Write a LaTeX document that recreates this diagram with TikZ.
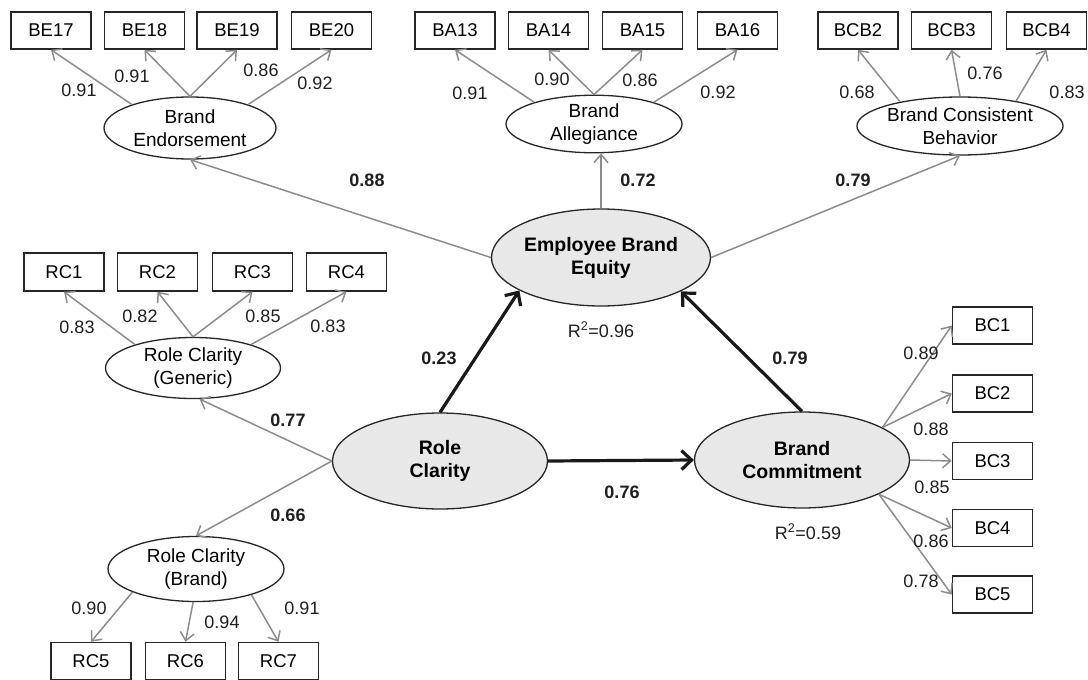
\documentclass[tikz,border=0pt]{standalone}
\usepackage{fontspec}
\setmainfont{Liberation Sans}
\usetikzlibrary{shapes.geometric,arrows.meta}
\begin{document}
\begin{tikzpicture}[x=1pt,y=-1pt,
  ind/.style={draw=black!85, line width=1.5pt, fill=white, minimum width=80pt,
    minimum height=37pt, inner sep=0pt, font=\fontsize{18.5}{22}\selectfont},
  lat/.style={ellipse, draw=black!85, line width=1.3pt, fill=white, inner sep=0pt,
    align=center, font=\fontsize{19}{23}\selectfont},
  core/.style={lat, fill=black!9, font=\fontsize{19.5}{23}\selectfont\bfseries},
  loadarrow/.style={draw=black!45, line width=1.5pt, -{Straight Barb[length=8pt,width=14pt]}},
  mainarrow/.style={draw=black!90, line width=3.2pt, -{Straight Barb[length=10pt,width=19pt]}},
  coef/.style={text=black!88, inner sep=0pt, font=\fontsize{18}{20}\selectfont},
  bcoef/.style={coef, font=\fontsize{18}{20}\selectfont\bfseries}
]
\useasboundingbox (0,0) rectangle (1088,680);

% indicator boxes, top row
\node[ind] (be17) at (51,30.5) {BE17};
\node[ind] (be18) at (144.5,30.5) {BE18};
\node[ind] (be19) at (237,30.5) {BE19};
\node[ind] (be20) at (331.5,30.5) {BE20};
\node[ind] (ba13) at (455,30.5) {BA13};
\node[ind] (ba14) at (548.5,30.5) {BA14};
\node[ind] (ba15) at (642.5,30.5) {BA15};
\node[ind] (ba16) at (737.5,30.5) {BA16};
\node[ind] (bcb2) at (858,30.5) {BCB2};
\node[ind] (bcb3) at (951.5,30.5) {BCB3};
\node[ind] (bcb4) at (1046.5,30.5) {BCB4};

% role clarity indicators
\node[ind, minimum height=38pt] (rc1) at (64,272) {RC1};
\node[ind, minimum height=38pt] (rc2) at (157.5,272) {RC2};
\node[ind, minimum height=38pt] (rc3) at (252.5,272) {RC3};
\node[ind, minimum height=38pt] (rc4) at (346.5,272) {RC4};
\node[ind] (rc5) at (91,661) {RC5};
\node[ind] (rc6) at (185.5,661) {RC6};
\node[ind] (rc7) at (278.5,661) {RC7};

% brand commitment indicators
\node[ind] (bc1) at (992.5,325.5) {BC1};
\node[ind] (bc2) at (992.5,393.5) {BC2};
\node[ind] (bc3) at (992.5,461) {BC3};
\node[ind] (bc4) at (992.5,528) {BC4};
\node[ind] (bc5) at (992.5,594.5) {BC5};

% first-order latent variables
\node[lat, minimum width=172pt, minimum height=62pt] (be) at (190,128) {Brand\\Endorsement};
\node[lat, minimum width=176pt, minimum height=54pt] (ba) at (594,124) {Brand\\Allegiance};
\node[lat, minimum width=176pt, minimum height=58pt] (bcb) at (960,126) {Brand Consistent\\Behavior};
\node[lat, minimum width=175pt, minimum height=61pt] (rcg) at (193,368) {Role Clarity\\(Generic)};
\node[lat, minimum width=176pt, minimum height=65pt] (rcb) at (196,569) {Role Clarity\\(Brand)};

% structural constructs
\node[core, minimum width=219pt, minimum height=97pt] (ebe) at (601,257.5) {Employee Brand\\Equity};
\node[core, minimum width=215pt, minimum height=96pt] (rc) at (440,461) {Role\\Clarity};
\node[core, minimum width=215pt, minimum height=96pt] (bc) at (802,460) {Brand\\Commitment};

% loadings
\draw[loadarrow] (be.158) -- (be17.south);
\draw[loadarrow] (be.north) -- (be18.south);
\draw[loadarrow] (be.north) -- (be19.south);
\draw[loadarrow] (be.22) -- (be20.south);
\draw[loadarrow] (ba.160) -- (ba13.south);
\draw[loadarrow] (ba.north) -- (ba14.south);
\draw[loadarrow] (ba.north) -- (ba15.south);
\draw[loadarrow] (ba.20) -- (ba16.south);
\draw[loadarrow] (bcb.158) -- (bcb2.south);
\draw[loadarrow] (bcb.north) -- (bcb3.south);
\draw[loadarrow] (bcb.24) -- (bcb4.south);
\draw[loadarrow] (rcg.158) -- (rc1.south);
\draw[loadarrow] (rcg.north) -- (rc2.south);
\draw[loadarrow] (rcg.north) -- (rc3.south);
\draw[loadarrow] (rcg.22) -- (rc4.south);
\draw[loadarrow] (rcb.200) -- (rc5.north);
\draw[loadarrow] (rcb.265) -- (rc6.north);
\draw[loadarrow] (rcb.335) -- (rc7.north);
\draw[loadarrow] (bc.22) -- (bc1.west);
\draw[loadarrow] (bc.22) -- (bc2.west);
\draw[loadarrow] (bc.east) -- (bc3.west);
\draw[loadarrow] (bc.336) -- (bc4.west);
\draw[loadarrow] (bc.336) -- (bc5.west);

% second-order paths
\draw[loadarrow] (ebe.west) -- (be.south);
\draw[loadarrow] (ebe.north) -- (ebe.north |- ba.south);
\draw[loadarrow] (ebe.east) -- (bcb.south);
\draw[loadarrow] (rc.west) -- (rcg.-78);
\draw[loadarrow] (rc.west) -- (rcb.north);

% structural paths
\draw[mainarrow] (rc.north) -- (ebe.202.5);
\draw[mainarrow] (bc.north) -- (ebe.337.5);
\draw[mainarrow] (rc.east) -- (bc.west);

% coefficients
\node[coef] (l1) at (79,90) {0.91};
\node[coef] (l2) at (132,76) {0.91};
\node[coef] (l3) at (261,70) {0.86};
\node[coef] (l4) at (315,83) {0.92};
\node[bcoef] (l5) at (367,180) {0.88};
\node[coef] (l6) at (470,93) {0.91};
\node[coef] (l7) at (552,79) {0.90};
\node[coef] (l8) at (640,80) {0.86};
\node[coef] (l9) at (718,92) {0.92};
\node[bcoef] (l10) at (638,180) {0.72};
\node[coef] (l11) at (857,92) {0.68};
\node[coef] (l12) at (985,73) {0.76};
\node[coef] (l13) at (1067,92) {0.83};
\node[bcoef] (l14) at (853,180) {0.79};
\node[coef] (l15) at (77,327) {0.83};
\node[coef] (l16) at (140,316) {0.82};
\node[coef] (l17) at (263,316) {0.85};
\node[coef] (l18) at (328,326) {0.83};
\node[bcoef] (l19) at (288,420) {0.77};
\node[coef] (l20) at (89,608) {0.90};
\node[coef] (l21) at (222,622) {0.94};
\node[coef] (l22) at (302,608) {0.91};
\node[bcoef] (l23) at (288,515) {0.66};
\node[bcoef] (l24) at (439,358) {0.23};
\node[bcoef] (l25) at (790,358) {0.79};
\node[bcoef] (l26) at (622,492) {0.76};
\node[coef, anchor=base] (r1) at (601,337) {R\textsuperscript{2}=0.96};
\node[coef, anchor=base] (r2) at (808,539) {R\textsuperscript{2}=0.59};
\node[coef] (l27) at (921,353) {0.89};
\node[coef] (l28) at (931,429) {0.88};
\node[coef] (l29) at (932,487) {0.85};
\node[coef] (l30) at (931,541) {0.86};
\node[coef] (l31) at (921,581) {0.78};
\end{tikzpicture}
\end{document}
